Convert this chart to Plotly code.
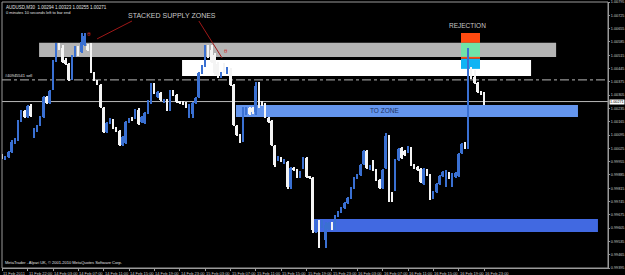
import plotly.graph_objects as go

# ---------------- data (AUDUSD, M30) ----------------
header_line = "AUDUSD,M30  1.00294 1.00323 1.00255 1.00271"
timer_line = "0 minutes 10 seconds left to bar end"
footer_line = "MetaTrader - Alpari UK, \u00a9 2001-2010 MetaQuotes Software Corp."
order_label = "#40945541 sell"

opens = [
    0.99990, 0.99969, 0.99980, 1.00006, 1.00053, 1.00069, 1.00169, 1.00222, 1.00190, 1.00248,
    1.00085, 1.00117, 1.00148, 1.00190, 1.00295, 1.00264, 1.00343, 1.00506, 1.00569, 1.00553,
    1.00490, 1.00469, 1.00395, 1.00517, 1.00559, 1.00532, 1.00569, 1.00564, 1.00564, 1.00422,
    1.00380, 1.00359, 1.00238, 1.00111, 1.00159, 1.00174, 1.00132, 1.00117, 1.00043, 1.00053,
    1.00164, 1.00185, 1.00185, 1.00227, 1.00164, 1.00159, 1.00211, 1.00264, 1.00359, 1.00295,
    1.00317, 1.00269, 1.00280, 1.00227, 1.00322, 1.00306, 1.00269, 1.00269, 1.00264, 1.00201,
    1.00206, 1.00264, 1.00295, 1.00422, 1.00459, 1.00559, 1.00543, 1.00517, 1.00469, 1.00401,
    1.00459, 1.00427, 1.00438, 1.00359, 1.00143, 1.00095, 1.00069, 1.00206, 1.00238, 1.00238,
    1.00217, 1.00353, 1.00269, 1.00259, 1.00185, 1.00169, 1.00038, 0.99964, 0.99974, 0.99948,
    0.99953, 0.99822, 0.99922, 0.99911, 0.99874, 0.99922, 0.99974, 0.99874, 0.99869, 0.99596,
    0.99643, 0.99617, 0.99543, 0.99601, 0.99632, 0.99601, 0.99669, 0.99690, 0.99711, 0.99738,
    0.99764, 0.99817, 0.99869, 0.99885, 0.99943, 1.00011, 0.99917, 0.99959, 0.99911, 0.99859,
    0.99817, 0.99922, 1.00090, 0.99790, 0.99806, 0.99964, 1.00027, 1.00011, 1.00006, 1.00027,
    0.99938, 0.99927, 0.99917, 0.99838, 0.99911, 0.99885, 0.99764, 0.99796, 0.99838, 0.99880,
    0.99827, 0.99896, 0.99827, 0.99874, 0.99880, 1.00001, 1.00053, 1.00027, 1.00422, 1.00401,
    1.00369, 1.00322, 1.00294,
]
highs = [
    0.99996, 0.99985, 1.00011, 1.00069, 1.00080, 1.00174, 1.00227, 1.00227, 1.00253, 1.00259,
    1.00132, 1.00148, 1.00196, 1.00301, 1.00301, 1.00332, 1.00490, 1.00580, 1.00580, 1.00569,
    1.00501, 1.00474, 1.00517, 1.00564, 1.00564, 1.00632, 1.00632, 1.00574, 1.00580, 1.00427,
    1.00385, 1.00364, 1.00243, 1.00164, 1.00185, 1.00180, 1.00138, 1.00122, 1.00090, 1.00169,
    1.00185, 1.00190, 1.00232, 1.00238, 1.00196, 1.00217, 1.00280, 1.00369, 1.00369, 1.00327,
    1.00322, 1.00285, 1.00285, 1.00332, 1.00332, 1.00311, 1.00274, 1.00274, 1.00269, 1.00259,
    1.00269, 1.00295, 1.00427, 1.00464, 1.00569, 1.00569, 1.00569, 1.00527, 1.00480, 1.00427,
    1.00474, 1.00453, 1.00448, 1.00364, 1.00148, 1.00101, 1.00243, 1.00243, 1.00243, 1.00243,
    1.00374, 1.00374, 1.00274, 1.00264, 1.00190, 1.00174, 1.00043, 0.99985, 0.99980, 0.99969,
    0.99959, 0.99927, 0.99927, 0.99917, 0.99906, 0.99980, 0.99980, 0.99880, 0.99874, 0.99648,
    0.99648, 0.99648, 0.99638, 0.99638, 0.99638, 0.99675, 0.99696, 0.99717, 0.99743, 0.99769,
    0.99822, 0.99874, 0.99890, 0.99943, 1.00017, 1.00017, 0.99938, 0.99964, 0.99917, 0.99864,
    0.99917, 1.00106, 1.00095, 0.99796, 0.99969, 1.00027, 1.00032, 1.00017, 1.00038, 1.00032,
    0.99943, 0.99932, 0.99922, 0.99922, 0.99917, 0.99890, 0.99801, 0.99843, 0.99885, 0.99906,
    0.99911, 0.99901, 0.99896, 0.99901, 1.00001, 1.00053, 1.00059, 1.00553, 1.00453, 1.00438,
    1.00374, 1.00327, 1.00323,
]
lows = [
    0.99969, 0.99964, 0.99974, 1.00001, 1.00048, 1.00064, 1.00164, 1.00185, 1.00185, 1.00190,
    1.00080, 1.00111, 1.00143, 1.00185, 1.00259, 1.00259, 1.00332, 1.00480, 1.00543, 1.00474,
    1.00464, 1.00380, 1.00385, 1.00506, 1.00511, 1.00527, 1.00564, 1.00538, 1.00422, 1.00380,
    1.00359, 1.00238, 1.00106, 1.00106, 1.00153, 1.00127, 1.00111, 1.00038, 1.00038, 1.00048,
    1.00159, 1.00169, 1.00180, 1.00148, 1.00159, 1.00153, 1.00206, 1.00259, 1.00311, 1.00290,
    1.00274, 1.00264, 1.00222, 1.00222, 1.00301, 1.00264, 1.00259, 1.00253, 1.00238, 1.00185,
    1.00185, 1.00259, 1.00290, 1.00417, 1.00453, 1.00501, 1.00474, 1.00411, 1.00395, 1.00395,
    1.00422, 1.00417, 1.00353, 1.00143, 1.00090, 1.00053, 1.00059, 1.00201, 1.00201, 1.00206,
    1.00201, 1.00238, 1.00248, 1.00185, 1.00159, 1.00038, 0.99927, 0.99959, 0.99953, 0.99943,
    0.99811, 0.99811, 0.99906, 0.99869, 0.99869, 0.99917, 0.99869, 0.99864, 0.99580, 0.99580,
    0.99501, 0.99606, 0.99501, 0.99596, 0.99596, 0.99596, 0.99664, 0.99685, 0.99706, 0.99732,
    0.99759, 0.99811, 0.99864, 0.99880, 0.99938, 0.99917, 0.99911, 0.99906, 0.99853, 0.99811,
    0.99811, 0.99917, 0.99743, 0.99743, 0.99801, 0.99959, 0.99969, 0.99985, 1.00001, 0.99932,
    0.99917, 0.99906, 0.99843, 0.99832, 0.99880, 0.99753, 0.99759, 0.99790, 0.99832, 0.99874,
    0.99822, 0.99864, 0.99822, 0.99869, 0.99874, 0.99996, 1.00022, 1.00022, 1.00390, 1.00364,
    1.00317, 1.00306, 1.00255,
]
closes = [
    0.99974, 0.99980, 1.00006, 1.00059, 1.00074, 1.00169, 1.00222, 1.00190, 1.00248, 1.00196,
    1.00127, 1.00143, 1.00190, 1.00295, 1.00264, 1.00327, 1.00480, 1.00569, 1.00553, 1.00480,
    1.00469, 1.00385, 1.00506, 1.00559, 1.00517, 1.00585, 1.00617, 1.00543, 1.00427, 1.00385,
    1.00364, 1.00243, 1.00111, 1.00159, 1.00180, 1.00132, 1.00117, 1.00043, 1.00085, 1.00164,
    1.00180, 1.00174, 1.00227, 1.00153, 1.00190, 1.00211, 1.00274, 1.00359, 1.00317, 1.00322,
    1.00280, 1.00280, 1.00227, 1.00322, 1.00306, 1.00269, 1.00264, 1.00259, 1.00243, 1.00248,
    1.00264, 1.00290, 1.00422, 1.00459, 1.00559, 1.00506, 1.00480, 1.00422, 1.00406, 1.00422,
    1.00427, 1.00448, 1.00359, 1.00148, 1.00095, 1.00059, 1.00238, 1.00238, 1.00206, 1.00217,
    1.00353, 1.00253, 1.00253, 1.00190, 1.00164, 1.00043, 0.99938, 0.99980, 0.99959, 0.99964,
    0.99822, 0.99922, 0.99911, 0.99874, 0.99901, 0.99974, 0.99874, 0.99869, 0.99596, 0.99643,
    0.99543, 0.99638, 0.99622, 0.99632, 0.99601, 0.99669, 0.99690, 0.99711, 0.99738, 0.99764,
    0.99817, 0.99869, 0.99885, 0.99938, 1.00011, 0.99922, 0.99932, 0.99911, 0.99859, 0.99817,
    0.99911, 1.00090, 0.99753, 0.99753, 0.99964, 1.00022, 0.99974, 0.99990, 1.00032, 0.99938,
    0.99922, 0.99911, 0.99848, 0.99917, 0.99885, 0.99759, 0.99796, 0.99838, 0.99880, 0.99901,
    0.99906, 0.99869, 0.99890, 0.99896, 0.99996, 1.00048, 1.00027, 1.00417, 1.00395, 1.00369,
    1.00322, 1.00311, 1.00271,
]
bar_index = list(range(len(opens)))

time_tick_bars = [0, 8, 16, 24, 32, 40, 48, 56, 64, 72, 80, 88, 96, 104, 112, 120, 128, 136, 144, 152]
time_tick_labels = [
    "11 Feb 2011", "11 Feb 22:00", "14 Feb 03:00", "14 Feb 07:00", "14 Feb 11:00",
    "14 Feb 15:00", "14 Feb 19:00", "14 Feb 23:00", "15 Feb 03:00", "15 Feb 07:00",
    "15 Feb 11:00", "15 Feb 15:00", "15 Feb 19:00", "15 Feb 23:00", "16 Feb 03:00",
    "16 Feb 07:00", "16 Feb 11:00", "16 Feb 15:00", "16 Feb 19:00", "16 Feb 23:00",
]
price_ticks = [
    0.99395, 0.99465, 0.99535, 0.99605, 0.99675, 0.99745, 0.99815, 0.99885, 0.99955, 1.00025,
    1.00095, 1.00165, 1.00235, 1.00305, 1.00375, 1.00445, 1.00515, 1.00585, 1.00655, 1.00725,
    1.00795,
]
price_tick_labels = [f"{v:.5f}" for v in price_ticks]

current_price = 1.00271
order_price = 1.00385

# zones: (first bar, last bar, low price, high price)
supply_zone_gray = (11.6, 174.7, 1.00506, 1.00580)
supply_zone_white = (56.7, 166.8, 1.00406, 1.00490)
target_zone = (73.7, 181.6, 1.00190, 1.00253)
demand_zone = (98.0, 187.9, 0.99585, 0.99653)
rejection_bars = (144.7, 150.7)
rejection_levels = [1.00632, 1.00580, 1.00506, 1.00496, 1.00443]

# ---------------- styling ----------------
BLUE = "#3a70d2"
WHITE = "#f4f4f4"
AX = "#9a9a9a"
TXT = "#c8c8c8"
FONT = "Arial"

colors = [BLUE if c >= o else WHITE for o, c in zip(opens, closes)]
body_base = [min(o, c) for o, c in zip(opens, closes)]
body_h = [max(abs(c - o), 0.00003) for o, c in zip(opens, closes)]
wick_h = [h - l for h, l in zip(highs, lows)]

fig = go.Figure()
fig.add_trace(go.Bar(x=bar_index, y=wick_h, base=lows, width=0.32,
                     marker=dict(color=colors, line=dict(width=0)), hoverinfo="skip"))
fig.add_trace(go.Bar(x=bar_index, y=body_h, base=body_base, width=0.62,
                     marker=dict(color=colors, line=dict(width=0)), hoverinfo="skip"))

shapes = []
def zone(z, color):
    shapes.append(dict(type="rect", xref="x", yref="y", x0=z[0], x1=z[1], y0=z[2], y1=z[3],
                       fillcolor=color, line=dict(width=0), layer="below"))

zone(supply_zone_gray, "#b4b4b4")
zone(supply_zone_white, "#ffffff")
zone(target_zone, "#6495ed")
zone(demand_zone, "#4169e1")
rx0, rx1 = rejection_bars
rl = rejection_levels
for y0, y1, col in [(rl[1], rl[0], "#ff4a10"), (rl[2], rl[1], "#6fe3a8"),
                    (rl[3], rl[2], "#ff4a10"), (rl[4], rl[3], "#10b4f4")]:
    shapes.append(dict(type="rect", xref="x", yref="y", x0=rx0, x1=rx1, y0=y0, y1=y1,
                       fillcolor=col, line=dict(width=0), layer="below"))

# order line and current price line
shapes.append(dict(type="line", xref="paper", yref="y", x0=0, x1=1, y0=order_price, y1=order_price,
                   line=dict(color="#b8b8b8", width=1, dash="dashdot"), layer="below"))
shapes.append(dict(type="line", xref="paper", yref="y", x0=0, x1=1, y0=current_price, y1=current_price,
                   line=dict(color="#b8b8b8", width=1), layer="below"))
# pointer lines
shapes.append(dict(type="line", xref="x", yref="y", x0=40.9, y0=1.00695, x1=29.9, y1=1.00601,
                   line=dict(color="#a01818", width=1)))
shapes.append(dict(type="line", xref="x", yref="y", x0=62.0, y0=1.00695, x1=69.3, y1=1.00501,
                   line=dict(color="#a01818", width=1)))
# frame
shapes.append(dict(type="rect", xref="paper", yref="paper", x0=0, x1=1, y0=0, y1=1,
                   line=dict(color=AX, width=1), fillcolor="rgba(0,0,0,0)"))

ann = []
ann.append(dict(xref="paper", yref="paper", x=0, y=1, xanchor="left", yanchor="top", xshift=2, yshift=-1,
                text=header_line, showarrow=False, font=dict(size=4.5, color="#e0e0e0", family=FONT)))
ann.append(dict(xref="paper", yref="paper", x=0, y=1, xanchor="left", yanchor="top", xshift=2, yshift=-6,
                text=timer_line, showarrow=False, font=dict(size=4, color="#e0e0e0", family=FONT)))
ann.append(dict(xref="paper", yref="paper", x=0, y=0, xanchor="left", yanchor="bottom", xshift=1, yshift=1,
                text=footer_line, showarrow=False, font=dict(size=4, color="#e0e0e0", family=FONT)))
ann.append(dict(xref="paper", yref="y", x=0, y=order_price, xanchor="left", yanchor="bottom", xshift=1,
                text=order_label, showarrow=False, font=dict(size=4, color="#e0e0e0", family=FONT)))
ann.append(dict(xref="x", yref="y", x=53.5, y=1.00724, text="STACKED SUPPLY ZONES", showarrow=False,
                font=dict(size=7, color=TXT, family=FONT)))
ann.append(dict(xref="x", yref="y", x=146.8, y=1.00671, text="REJECTION", showarrow=False,
                font=dict(size=6.5, color=TXT, family=FONT)))
ann.append(dict(xref="x", yref="y", x=120.7, y=1.00222, text="TO ZONE", showarrow=False,
                font=dict(size=6.5, color="#22345e", family=FONT)))
for xb, yp in [(27.4, 1.00627), (70.6, 1.00538)]:
    ann.append(dict(xref="x", yref="y", x=xb, y=yp, text="\u03b8", showarrow=False,
                    font=dict(size=6, color="#d03030", family=FONT)))
for b, lab in zip(time_tick_bars, time_tick_labels):
    ann.append(dict(xref="x", yref="paper", x=b, y=0, xanchor="left", yanchor="top", xshift=-1, yshift=-1,
                    text=lab, showarrow=False, font=dict(size=4, color=TXT, family=FONT)))
ann.append(dict(xref="paper", yref="y", x=1, y=current_price, xanchor="left", xshift=1,
                text=f"{current_price:.5f}", showarrow=False, bgcolor="#ffffff",
                font=dict(size=3.8, color="#000000", family=FONT), borderpad=0))

fig.update_layout(
    width=625, height=275,
    margin=dict(l=2, r=17, t=2, b=7, autoexpand=False),
    paper_bgcolor="#000000", plot_bgcolor="#000000",
    showlegend=False, barmode="overlay", bargap=0,
    shapes=shapes, annotations=ann,
)
fig.update_xaxes(range=[-0.1, 191.07], showgrid=False, zeroline=False, showticklabels=False,
                 tickvals=time_tick_bars, ticks="outside", ticklen=2, tickcolor=AX,
                 showline=True, linecolor=AX, linewidth=1, automargin=False)
fig.update_yaxes(range=[0.99395, 1.00795], side="right", tickvals=price_ticks, ticktext=price_tick_labels,
                 tickfont=dict(size=3.8, color=TXT, family=FONT), ticks="outside", ticklen=1, tickcolor=AX,
                 ticklabelstandoff=0,
                 showgrid=False, zeroline=False, showline=True, linecolor=AX, linewidth=1, automargin=False)

fig.write_html("out.html")
